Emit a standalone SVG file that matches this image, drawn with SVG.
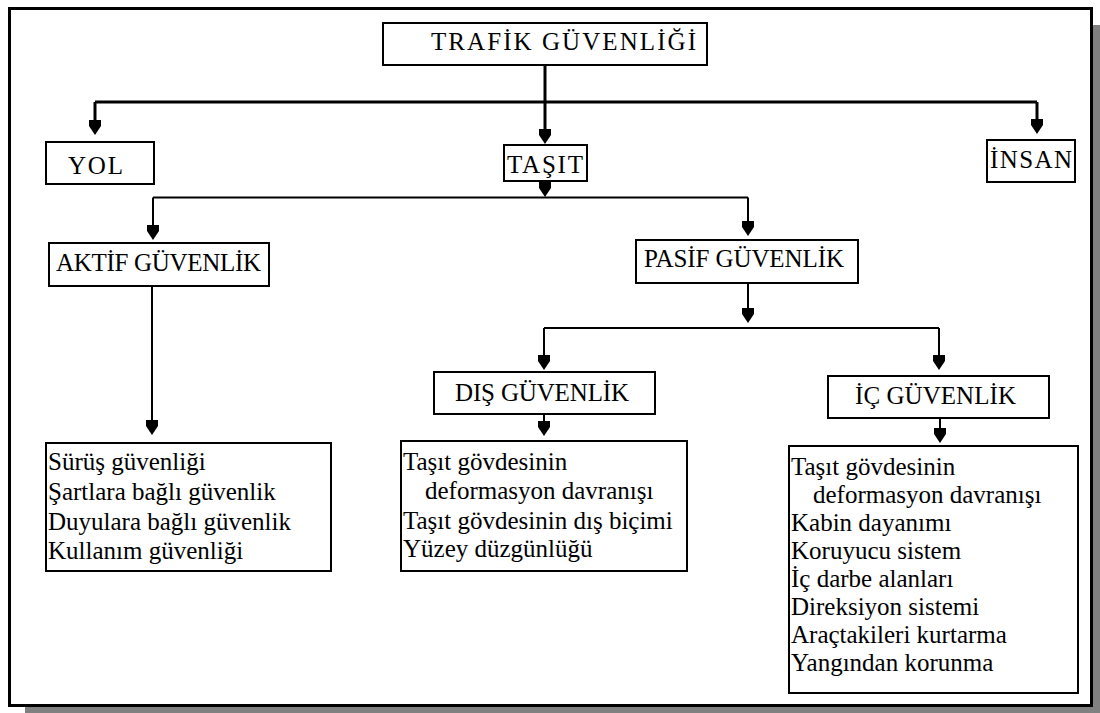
<svg xmlns="http://www.w3.org/2000/svg" width="1100" height="713" viewBox="0 0 1100 713">
<defs>
<style>
.box{fill:#fff;stroke:#000;stroke-width:2}
.lbl{font-family:"Liberation Serif","Times New Roman",serif;font-size:25px;fill:#000}
.txt{font-family:"Liberation Serif","Times New Roman",serif;font-size:25px;fill:#000}
.c1{fill:none;stroke:#000;stroke-width:3}
.c2{fill:none;stroke:#000;stroke-width:2}
</style>
<marker id="ah" viewBox="-12 -7 17 14" refX="0" refY="0" markerWidth="17" markerHeight="14" markerUnits="userSpaceOnUse" orient="auto">
<path d="M-11,-6 L-5,-6 L4,0 L-5,6 L-11,6 Z" fill="#000"/>
</marker>
</defs>
<rect x="25" y="25" width="1075" height="688" fill="#808080"/>
<rect x="9.5" y="8.5" width="1082" height="697" fill="#fff" stroke="#000" stroke-width="3"/>
<g id="connectors">
<path class="c1" d="M545,65 V102"/>
<path class="c1" d="M95,102 H1037"/>
<path class="c1" d="M95,102 V131" marker-end="url(#ah)"/>
<path class="c1" d="M545,102 V140" marker-end="url(#ah)"/>
<path class="c1" d="M1037,102 V130" marker-end="url(#ah)"/>
<path class="c2" d="M545,181 V193" marker-end="url(#ah)"/>
<path class="c2" d="M153,197.5 H748"/>
<path class="c2" d="M153,197.5 V236" marker-end="url(#ah)"/>
<path class="c2" d="M748,197.5 V232" marker-end="url(#ah)"/>
<path class="c2" d="M152,286 V431" marker-end="url(#ah)"/>
<path class="c2" d="M748,284 V319" marker-end="url(#ah)"/>
<path class="c2" d="M544,328 H939"/>
<path class="c2" d="M544,328 V366" marker-end="url(#ah)"/>
<path class="c2" d="M939,328 V366" marker-end="url(#ah)"/>
<path class="c2" d="M544,414 V432" marker-end="url(#ah)"/>
<path class="c2" d="M940,418 V439" marker-end="url(#ah)"/>
</g>
<g id="trafik">
<rect class="box" x="383" y="23" width="324" height="42"/>
<text class="lbl" x="431" y="50" textLength="265" lengthAdjust="spacing">TRAFİK GÜVENLİĞİ</text>
</g>
<g id="yol">
<rect class="box" x="46" y="142" width="108" height="42"/>
<text class="lbl" x="68" y="174" textLength="55" lengthAdjust="spacing">YOL</text>
</g>
<g id="tasit">
<rect class="box" x="504" y="145" width="83" height="36"/>
<text class="lbl" x="507" y="173" textLength="76" lengthAdjust="spacing">TAŞIT</text>
</g>
<g id="insan">
<rect class="box" x="987" y="140" width="88" height="42"/>
<text class="lbl" x="990" y="168" textLength="82" lengthAdjust="spacing">İNSAN</text>
</g>
<g id="aktif">
<rect class="box" x="49" y="243" width="220" height="43"/>
<text class="lbl" x="56" y="271" textLength="205" lengthAdjust="spacing">AKTİF GÜVENLİK</text>
</g>
<g id="pasif">
<rect class="box" x="636" y="240" width="222" height="43"/>
<text class="lbl" x="644" y="267" textLength="200" lengthAdjust="spacing">PASİF GÜVENLİK</text>
</g>
<g id="dis">
<rect class="box" x="434" y="372" width="221" height="42"/>
<text class="lbl" x="455" y="401" textLength="174" lengthAdjust="spacing">DIŞ GÜVENLİK</text>
</g>
<g id="ic">
<rect class="box" x="828" y="376" width="221" height="42"/>
<text class="lbl" x="855" y="404" textLength="161" lengthAdjust="spacing">İÇ GÜVENLİK</text>
</g>
<g id="aktif-detay">
<rect class="box" x="46" y="443" width="285" height="128"/>
<text class="txt" x="48" y="470">Sürüş güvenliği</text>
<text class="txt" x="48" y="500">Şartlara bağlı güvenlik</text>
<text class="txt" x="48" y="530">Duyulara bağlı güvenlik</text>
<text class="txt" x="48" y="559">Kullanım güvenliği</text>
</g>
<g id="dis-detay">
<rect class="box" x="401" y="441" width="286" height="130"/>
<text class="txt" x="403" y="470">Taşıt gövdesinin</text>
<text class="txt" x="425" y="499">deformasyon davranışı</text>
<text class="txt" x="403" y="529">Taşıt gövdesinin dış biçimi</text>
<text class="txt" x="403" y="557">Yüzey düzgünlüğü</text>
</g>
<g id="ic-detay">
<rect class="box" x="789" y="446" width="289" height="247"/>
<text class="txt" x="791" y="475">Taşıt gövdesinin</text>
<text class="txt" x="813" y="503">deformasyon davranışı</text>
<text class="txt" x="791" y="531">Kabin dayanımı</text>
<text class="txt" x="791" y="559">Koruyucu sistem</text>
<text class="txt" x="791" y="587">İç darbe alanları</text>
<text class="txt" x="791" y="615">Direksiyon sistemi</text>
<text class="txt" x="791" y="643">Araçtakileri kurtarma</text>
<text class="txt" x="791" y="671">Yangından korunma</text>
</g>
</svg>
